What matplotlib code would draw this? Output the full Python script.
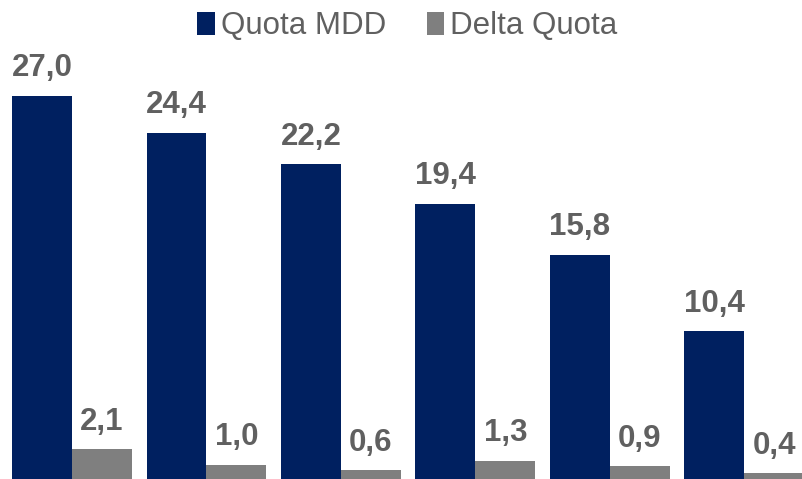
import numpy as np
import matplotlib.pyplot as plt

plt.rcParams['font.family'] = ['Liberation Sans', 'DejaVu Sans']

# quote per gruppo
quota_mdd = [27.0, 24.4, 22.2, 19.4, 15.8, 10.4]
delta_quota = [2.1, 1.0, 0.6, 1.3, 0.9, 0.4]
series_names = ["Quota MDD", "Delta Quota"]

navy = "#002060"
grey = "#7f7f7f"
label_col = "#606060"

fig = plt.figure(figsize=(8.02, 4.79), dpi=100)
ax = fig.add_axes([0, 0, 1, 1])

x = np.arange(len(quota_mdd))
w = 0.446
b1 = ax.bar(x - w / 2, quota_mdd, w, color=navy, label=series_names[0])
b2 = ax.bar(x + w / 2, delta_quota, w, color=grey, label=series_names[1])

for bars, vals in ((b1, quota_mdd), (b2, delta_quota)):
    for r, v in zip(bars, vals):
        ax.annotate(f"{v:.1f}".replace(".", ","),
                    (r.get_x() + r.get_width() / 2, r.get_height()),
                    xytext=(0, 9), textcoords="offset points",
                    ha="center", va="bottom", fontsize=22.5,
                    fontweight="bold", color=label_col)

ax.set_xlim(-0.536, 5.43)
ax.set_ylim(0, 33.76)
ax.axis("off")

fig.legend(loc="upper center", bbox_to_anchor=(0.508, 1.035), ncol=2,
           frameon=False, fontsize=22.5, handlelength=0.55, handleheight=0.75,
           handletextpad=0.2, columnspacing=1.3, labelcolor=label_col)

fig.savefig("out.png", dpi=100)
